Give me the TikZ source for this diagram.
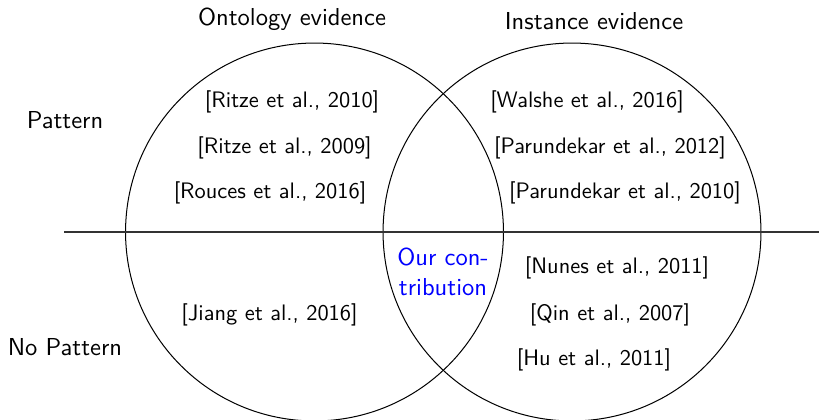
\documentclass[tikz,border=0pt]{standalone}
\usepackage{fontspec}
\begin{document}
\begin{tikzpicture}[x=0.4464pt, y=-0.4464pt,
  every node/.style={font=\sffamily},
  heading/.style={font=\sffamily\fontsize{10.95pt}{13.4pt}\selectfont},
  ref/.style={inner sep=1pt, anchor=center},
  setcircle/.style={circle, draw, line width=0.45pt, inner sep=0pt, minimum size=168.7pt},
  divider/.style={line width=0.5pt, draw=black!80}]
  \useasboundingbox (0,0) rectangle (819,419);

  % the two evidence sets
  \node[setcircle] (onto) at (314.5,232) {};
  \node[setcircle] (inst) at (572,232) {};

  % pattern / no pattern divider
  \coordinate (divL) at (64,232);
  \coordinate (divR) at (819,232);
  \draw[divider] (divL) -- (divR);

  % headings
  \node[heading] (hOnto) at (292,19) {Ontology evidence};
  \node[heading] (hInst) at (594,21) {Instance evidence};
  \node[heading] (hPat) at (65,120) {Pattern};
  \node[heading] (hNoPat) at (65,347) {No Pattern};

  % ontology side
  \node[ref] (r1) at (292,102) {[Ritze et al., 2010]};
  \node[ref] (r2) at (284.5,148) {[Ritze et al., 2009]};
  \node[ref] (r3) at (270,193) {[Rouces et al., 2016]};
  \node[ref] (r4) at (269.5,315) {[Jiang et al., 2016]};

  % instance side
  \node[ref] (i1) at (587,102) {[Walshe et al., 2016]};
  \node[ref] (i2) at (610,148) {[Parundekar et al., 2012]};
  \node[ref] (i3) at (625,193) {[Parundekar et al., 2010]};
  \node[ref] (i4) at (617,268) {[Nunes et al., 2011]};
  \node[ref] (i5) at (610,315) {[Qin et al., 2007]};
  \node[ref] (i6) at (594,360) {[Hu et al., 2011]};

  % overlap
  \node[align=center, text=blue, heading] (ours) at (443,272) {Our con-\\tribution};
\end{tikzpicture}
\end{document}
